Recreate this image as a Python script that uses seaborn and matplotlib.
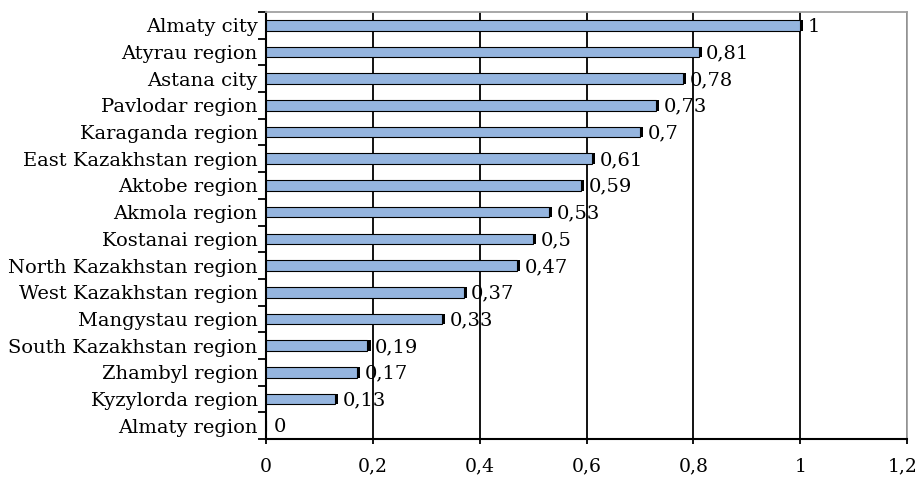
import matplotlib
matplotlib.use("Agg")
import matplotlib.pyplot as plt
import matplotlib.patheffects as pe
import matplotlib.transforms as mtransforms
from matplotlib.ticker import FixedLocator
import seaborn as sns
import pandas as pd

regions = ["Almaty city", "Atyrau region", "Astana city", "Pavlodar region",
           "Karaganda region", "East Kazakhstan region", "Aktobe region",
           "Akmola region", "Kostanai region", "North Kazakhstan region",
           "West Kazakhstan region", "Mangystau region", "South Kazakhstan region",
           "Zhambyl region", "Kyzylorda region", "Almaty region"]
values = [1, 0.81, 0.78, 0.73, 0.7, 0.61, 0.59, 0.53, 0.5, 0.47,
          0.37, 0.33, 0.19, 0.17, 0.13, 0]
value_labels = ["1", "0,81", "0,78", "0,73", "0,7", "0,61", "0,59", "0,53", "0,5",
                "0,47", "0,37", "0,33", "0,19", "0,17", "0,13", "0"]
xticks = [0, 0.2, 0.4, 0.6, 0.8, 1.0, 1.2]
xtick_labels = ["0", "0,2", "0,4", "0,6", "0,8", "1", "1,2"]

df = pd.DataFrame({"region": regions, "value": values})

sns.set_style("white")
plt.rcParams["font.family"] = ["DejaVu Serif"]
plt.rcParams["text.color"] = "black"
plt.rcParams["xtick.color"] = "black"
plt.rcParams["ytick.color"] = "black"
plt.rcParams["xtick.labelcolor"] = "black"
plt.rcParams["ytick.labelcolor"] = "black"

fig = plt.figure(figsize=(9.19, 4.8), dpi=100)
ax = fig.add_axes([0.2894, 0.0854, 0.6976, 0.8896])

sns.barplot(data=df, x="value", y="region", orient="h", color="#95B5DF",
            saturation=1, width=0.4, edgecolor="black", linewidth=0.8, ax=ax)
for p in ax.patches:
    p.set_path_effects([pe.SimplePatchShadow(offset=(2.2, 0), shadow_rgbFace="black", alpha=1),
                        pe.Normal()])
    p.set_zorder(3)

ax.set_xlim(0, 1.2)
ax.set_ylim(len(regions) - 0.5, -0.5)
ax.xaxis.set_major_locator(FixedLocator(xticks))
ax.set_xticklabels(xtick_labels)
ax.grid(axis="x", color="black", linewidth=1.3, zorder=1)
ax.set_axisbelow(True)
ax.set_xlabel("")
ax.set_ylabel("")

ax.set_yticks(range(len(regions)))
ax.set_yticklabels(regions)
ax.tick_params(axis="y", which="major", left=False, length=0, pad=6, labelsize=14)
ax.set_yticks([i + 0.5 for i in range(-1, len(regions))], minor=True)
ax.tick_params(axis="y", which="minor", left=True, length=6, width=1.3,
               color="black", direction="out")
ax.tick_params(axis="x", bottom=True, length=3.5, width=1.3, color="black",
               labelsize=13.5, pad=10)

# nudge the last x tick label so it stays inside the figure
last = ax.get_xticklabels()[-1]
last.set_transform(last.get_transform() +
                   mtransforms.ScaledTranslation(-4 / 100, 0, fig.dpi_scale_trans))

for s in ["top", "right"]:
    ax.spines[s].set_color("#A0A0A0")
    ax.spines[s].set_linewidth(1.3)
for s in ["left", "bottom"]:
    ax.spines[s].set_color("black")
    ax.spines[s].set_linewidth(1.5)

for i, (v, lab) in enumerate(zip(values, value_labels)):
    ax.text(v + 0.014, i + 0.05, lab, va="center", ha="left", fontsize=14, zorder=4)

fig.savefig("out.png", dpi=100)
